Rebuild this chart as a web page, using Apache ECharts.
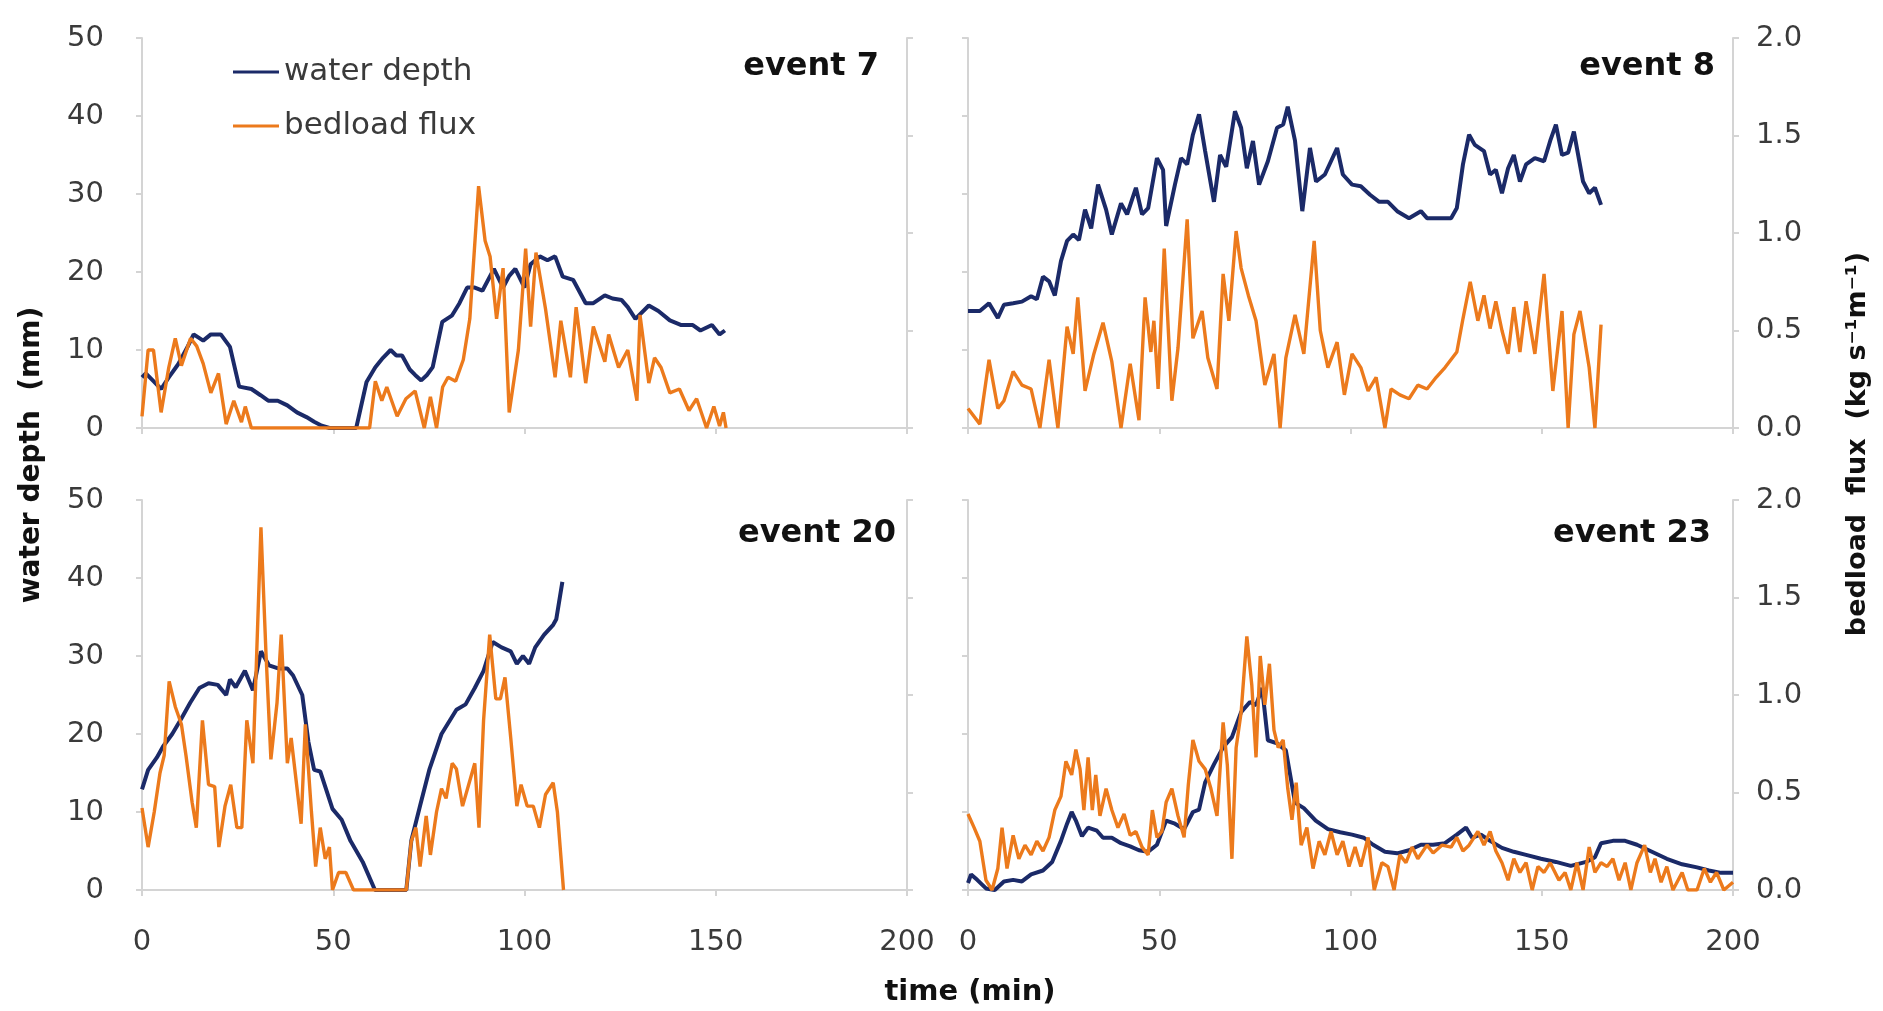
<!DOCTYPE html>
<html><head><meta charset="utf-8">
<script src="https://cdn.jsdelivr.net/npm/echarts@6/dist/echarts.min.js"></script>
<style>html,body{margin:0;padding:0;background:#fff}#c{width:1883px;height:1011px}</style>
</head><body><div id="c"></div>
<script>
// ---------------- data ----------------
const eventNames = ['event 7', 'event 8', 'event 20', 'event 23'];
const seriesNames = ['water depth', 'bedload flux'];

// time (min), water depth (mm)
const e7Depth = [[0,6.5],[1,7],[3,6],[5,5],[7,6.5],[9.5,8.2],[12,10.5],[13.5,12],[16,11.2],[18,12],[20.6,12],[23,10.4],[25.4,5.3],[28.6,5],[31,4.2],[33,3.5],[35.5,3.5],[38,2.9],[40.5,2],[43,1.4],[45,0.8],[47,0.3],[49,0],[56,0],[58.7,5.9],[61,7.8],[63,9],[65,10],[66.5,9.3],[68,9.3],[70,7.5],[71.4,6.8],[73,6.1],[74.5,6.8],[76,7.8],[78.5,13.6],[81,14.4],[83,16],[85,18],[87,18],[89,17.6],[92,20.4],[94.4,18],[96,19.5],[97.6,20.4],[100,18],[101.6,21],[104,22],[106,21.5],[108,22],[110,19.4],[112.7,19],[116,16],[118,16],[121,17],[123,16.6],[125.4,16.4],[127,15.5],[129,14],[132.5,15.7],[135,15],[138,13.8],[141,13.2],[144,13.2],[146,12.5],[149,13.2],[151,12],[152.4,12.5]];
// time (min), bedload flux (kg s-1 m-1)
const e7Flux = [[0,0.06],[1.6,0.40],[3,0.40],[5,0.08],[7,0.31],[8.7,0.46],[10.3,0.32],[12.7,0.46],[14.3,0.42],[16,0.33],[18,0.18],[20,0.28],[22,0.02],[24,0.14],[26,0.03],[27,0.11],[28.6,0],[59.5,0],[61,0.24],[62.7,0.14],[64,0.21],[66.7,0.06],[69,0.15],[71.4,0.19],[73.8,0],[75.4,0.16],[77,0],[78.6,0.21],[80,0.26],[82,0.24],[84,0.35],[85.7,0.56],[88,1.24],[89.7,0.96],[91,0.88],[92.7,0.56],[94.4,0.82],[96,0.08],[98.4,0.40],[100.3,0.92],[101.6,0.52],[103,0.90],[105.5,0.61],[108,0.26],[109.5,0.55],[112,0.26],[113.5,0.62],[116,0.23],[118,0.52],[121,0.34],[122,0.48],[124.6,0.31],[127,0.40],[129.4,0.14],[130.2,0.58],[132.5,0.23],[134,0.36],[135.7,0.31],[138,0.18],[140.5,0.20],[143,0.09],[145,0.15],[147.6,0],[149.5,0.11],[151,0.01],[152,0.08],[152.7,0]];

const e8Depth = [[0,15],[3.1,15],[5.5,16],[7.8,14.1],[9.4,15.8],[11.8,16],[14.1,16.2],[16.5,16.9],[18,16.5],[19.6,19.4],[21.2,18.8],[22.7,17],[24.3,21.4],[25.9,24],[27.5,24.8],[29,24.1],[30.6,28],[32.2,25.6],[34,31.2],[36.1,28],[37.6,24.8],[40,28.8],[41.6,27.4],[43.9,30.8],[45.5,27.4],[47.1,28.2],[49.4,34.6],[51,33.1],[51.8,25.9],[54.1,31.2],[55.7,34.6],[57.3,33.8],[58.8,37.6],[60.4,40.2],[62,35.5],[64.3,29],[65.9,35],[67.5,33.5],[69.8,40.6],[71.4,38.5],[72.9,33.3],[74.5,36.8],[76.1,31.2],[78.4,34.2],[80.8,38.5],[82.4,38.9],[83.6,41.2],[85.5,36.8],[87.4,27.8],[89.4,35.9],[91,31.6],[93.3,32.5],[96.5,35.9],[98,32.5],[100.4,31.2],[102.7,31],[105.1,29.9],[107.5,29],[109.8,29],[112.2,27.8],[115.3,26.9],[118.4,27.8],[120,26.9],[123.1,26.9],[126.3,26.9],[127.8,28.2],[129.4,33.8],[131,37.6],[132.5,36.3],[134.9,35.5],[136.5,32.5],[138,33.1],[139.6,30.1],[141.2,33.3],[142.7,35],[144.3,31.6],[145.9,33.8],[148.2,34.6],[150.6,34.2],[152.2,36.8],[153.7,38.9],[155.3,35],[156.9,35.3],[158.4,38],[160.8,31.6],[162.4,30.1],[163.9,30.8],[165.5,28.6]];
const e8Flux = [[0,0.10],[3.1,0.02],[5.5,0.35],[7.8,0.10],[9.4,0.14],[11.8,0.29],[14.1,0.22],[16.5,0.20],[18.8,0],[21.2,0.35],[23.5,0],[25.9,0.52],[27.5,0.38],[28.7,0.67],[30.6,0.19],[32.9,0.38],[35.3,0.54],[37.6,0.34],[40,0],[42.4,0.33],[44.7,0.04],[46.3,0.67],[47.8,0.39],[48.6,0.55],[49.7,0.20],[51.3,0.92],[53.3,0.14],[54.9,0.41],[57.3,1.07],[58.8,0.46],[61.2,0.60],[62.7,0.36],[65.1,0.20],[66.7,0.79],[68.2,0.55],[70.1,1.01],[71.4,0.82],[73.3,0.68],[75.3,0.55],[77.6,0.22],[80,0.38],[81.6,0],[83.1,0.36],[85.5,0.58],[87.8,0.38],[90.5,0.96],[92.1,0.50],[94.1,0.31],[96.5,0.44],[98.4,0.17],[100.4,0.38],[102.7,0.31],[104.6,0.19],[106.7,0.26],[109,0],[110.6,0.20],[112.9,0.17],[115.3,0.15],[117.6,0.22],[120,0.20],[122.4,0.26],[124.7,0.31],[127.8,0.39],[129.4,0.56],[131.3,0.75],[133.3,0.55],[134.9,0.68],[136.5,0.51],[138,0.65],[139.6,0.50],[141.2,0.38],[142.7,0.62],[144.3,0.39],[145.9,0.65],[148.2,0.38],[150.6,0.79],[152.9,0.19],[155.3,0.60],[156.9,0],[158.4,0.48],[160,0.60],[162.4,0.31],[163.9,0],[165.5,0.53]];

const e20Depth = [[0,12.9],[1.6,15.4],[3.9,17],[5.5,18.4],[7.9,20],[10.3,22],[12.6,24],[15,25.9],[17.4,26.5],[19.8,26.3],[22,25],[23,27],[24.5,26],[26.9,28.1],[29,25.6],[31.1,30.6],[33.2,28.8],[35.6,28.4],[38,28.4],[39.5,27.5],[41.9,25],[43.5,19],[45,15.4],[46.6,15.2],[49.8,10.4],[52.2,9],[54.5,6.3],[57.7,3.6],[60.9,0],[69.1,0],[70.4,6.3],[72.7,10.8],[75.1,15.4],[78.3,20],[82.2,23.1],[84.6,23.8],[87,25.9],[89.3,28.1],[91.7,31.8],[94,31.1],[96.4,30.6],[98,29],[99.6,30],[101.2,29],[102.8,31.1],[105.1,32.7],[107.5,34],[108.3,34.7],[109.9,39.5]];
const e20Flux = [[0,0.42],[1.6,0.22],[3.2,0.40],[4.7,0.60],[5.8,0.69],[7.1,1.07],[8.7,0.94],[10.3,0.85],[11.5,0.69],[13.1,0.45],[14.2,0.32],[15.8,0.87],[17.4,0.54],[19,0.53],[20.1,0.22],[21.7,0.43],[23.2,0.54],[24.8,0.32],[26.1,0.32],[27.4,0.87],[29,0.65],[30,1.22],[31.1,1.86],[32.4,1.22],[33.7,0.67],[35.3,0.96],[36.4,1.31],[38,0.65],[39,0.78],[40.3,0.56],[41.6,0.34],[42.7,0.85],[44.3,0.40],[45.4,0.12],[46.6,0.32],[47.9,0.16],[49,0.22],[49.8,0],[51.4,0.09],[53.3,0.09],[55.3,0],[69.1,0],[70.4,0.25],[71.6,0.32],[72.7,0.12],[74.3,0.38],[75.4,0.18],[77,0.40],[78.3,0.52],[79.5,0.47],[81.1,0.65],[82.2,0.62],[83.8,0.43],[85.4,0.54],[87,0.65],[88.1,0.32],[89.3,0.87],[90.9,1.31],[92.5,0.98],[93.7,0.98],[94.9,1.09],[96.4,0.78],[98,0.43],[99.1,0.54],[100.7,0.43],[102.3,0.43],[103.9,0.32],[105.5,0.49],[107.5,0.55],[108.6,0.40],[110.2,0]];

const e23Depth = [[0,0.9],[0.8,2],[2.4,1.3],[4.7,0.2],[7,0],[9.4,1.1],[11.8,1.3],[14.1,1.1],[16.5,2],[19.6,2.5],[22,3.6],[24.3,6.3],[25.9,8.5],[27.1,10],[28.2,8.9],[29.8,6.9],[31.4,8],[33.7,7.6],[35.3,6.7],[37.6,6.7],[40,6],[42.4,5.6],[44.7,5.1],[47.1,4.9],[49.4,5.8],[51.8,8.9],[54.1,8.5],[56.5,7.8],[58.8,10],[60.4,10.3],[62,13.8],[64.3,16.1],[66.7,18.3],[69,19.6],[71.4,22.8],[73.7,24.1],[75.3,23.7],[76.9,25.9],[78.4,19.2],[80.8,18.8],[83.1,17.9],[85.5,11.2],[87.8,10.5],[90.9,8.9],[94.1,7.8],[97.3,7.4],[100.4,7.1],[103.5,6.7],[105.9,5.8],[109,4.9],[112.2,4.7],[115.3,5.1],[118.4,5.8],[121.6,5.8],[124.7,6],[127.8,7.1],[130.2,8],[131.8,6.7],[134.1,7.1],[136.5,6.3],[139.6,5.4],[142.7,4.9],[145.9,4.5],[149.8,4],[153.7,3.6],[157.6,3.1],[161.6,3.6],[163.9,4.2],[165.5,6],[168.6,6.3],[171.8,6.3],[174.9,5.8],[178.8,4.9],[182.7,4],[186.7,3.3],[190.6,2.9],[193.7,2.5],[196.9,2.2],[200,2.2]];
const e23Flux = [[0,0.39],[1.6,0.32],[3.1,0.25],[4.7,0.05],[6.3,0],[7.8,0.11],[8.9,0.32],[10.2,0.11],[11.8,0.28],[13.3,0.16],[14.9,0.23],[16.5,0.18],[18,0.25],[19.6,0.20],[21.2,0.27],[22.7,0.41],[24.3,0.48],[25.6,0.66],[27.1,0.59],[28.2,0.72],[29.3,0.62],[30.3,0.41],[31.4,0.68],[32.5,0.41],[33.4,0.59],[34.5,0.38],[36.1,0.52],[37.6,0.41],[39.2,0.32],[40.8,0.39],[42.4,0.28],[43.9,0.30],[45.5,0.22],[47.1,0.18],[48.2,0.41],[49.4,0.27],[50.7,0.30],[51.8,0.45],[53.3,0.52],[54.9,0.38],[56.5,0.27],[57.6,0.54],[58.8,0.77],[60.4,0.66],[62,0.62],[63.5,0.52],[65.1,0.38],[66.7,0.86],[67.8,0.64],[69,0.16],[70.1,0.73],[71.4,0.91],[72.9,1.30],[74.2,1.05],[75.3,0.68],[76.4,1.20],[77.6,0.95],[78.8,1.16],[80,0.82],[81.1,0.73],[82.4,0.77],[83.6,0.52],[84.7,0.36],[85.8,0.55],[87.1,0.23],[88.6,0.32],[90.2,0.11],[91.8,0.25],[93.3,0.18],[94.9,0.30],[96.5,0.18],[98,0.25],[99.6,0.12],[101.2,0.22],[102.7,0.12],[104.6,0.27],[106.2,0],[108.2,0.14],[109.8,0.12],[111.4,0],[112.9,0.18],[114.5,0.14],[116.1,0.22],[117.6,0.16],[120,0.23],[121.6,0.19],[123.9,0.23],[126.3,0.22],[127.8,0.27],[129.4,0.20],[131,0.23],[133.3,0.30],[134.9,0.23],[136.5,0.30],[138,0.20],[139.6,0.14],[141.2,0.05],[142.7,0.16],[144.3,0.09],[145.9,0.14],[147.5,0],[149,0.12],[150.6,0.09],[152.2,0.14],[154.5,0.05],[156.1,0.09],[157.6,0],[159.2,0.14],[160.8,0],[162.4,0.22],[163.9,0.09],[165.5,0.14],[167.1,0.12],[168.6,0.16],[170.2,0.05],[171.8,0.14],[173.3,0],[174.9,0.14],[176.9,0.23],[178.4,0.09],[179.6,0.16],[181.2,0.04],[182.7,0.12],[184.3,0],[186.7,0.09],[188.2,0],[190.6,0],[192.5,0.11],[194.1,0.04],[195.7,0.09],[197.6,0],[200,0.04]];

const depthSets = [e7Depth, e8Depth, e20Depth, e23Depth];
const fluxSets = [e7Flux, e8Flux, e20Flux, e23Flux];

// ---------------- styling / layout ----------------
const FONT = 'DejaVu Sans';
const AXC = '#d4d4d4';
const LBL = '#3a3a3a';
const BLUE = '#1b2a68';
const ORANGE = '#ec7a1c';

const grids = [
  {left:142, top:38, width:765, height:390},
  {left:968, top:38, width:765, height:390},
  {left:142, top:500, width:765, height:390},
  {left:968, top:500, width:765, height:390}
];
const eventPos = [[879,67],[1715,67],[896,534],[1711,534]];

const xAxes = [], yAxes = [], series = [];
grids.forEach((g, i) => {
  const bottomRow = i >= 2, leftCol = (i % 2 === 0);
  xAxes.push({
    type:'value', gridIndex:i, min:0, max:200, interval:50,
    axisLine:{show:true, onZero:false, lineStyle:{color:AXC, width:2}},
    axisTick:{show:true, length:6, lineStyle:{color:AXC, width:2}},
    axisLabel:{show:bottomRow, margin:38, fontSize:29, color:LBL, fontFamily:FONT},
    splitLine:{show:false}
  });
  yAxes.push({
    type:'value', gridIndex:i, position:'left', min:0, max:50, interval:10,
    axisLine:{show:true, lineStyle:{color:AXC, width:2}},
    axisTick:{show:true, length:6, lineStyle:{color:AXC, width:2}},
    axisLabel:{show:leftCol, margin:38, fontSize:29, color:LBL, fontFamily:FONT},
    splitLine:{show:false}
  });
  yAxes.push({
    type:'value', gridIndex:i, position:'right', min:0, max:2, interval:0.5,
    axisLine:{show:true, lineStyle:{color:AXC, width:2}},
    axisTick:{show:true, length:6, lineStyle:{color:AXC, width:2}},
    axisLabel:{show:!leftCol, margin:23, fontSize:29, color:LBL, fontFamily:FONT,
      formatter: v => v.toFixed(1)},
    splitLine:{show:false}
  });
  series.push({
    name:seriesNames[0], type:'line', xAxisIndex:i, yAxisIndex:2*i,
    data:depthSets[i], symbol:'none', showSymbol:false,
    lineStyle:{color:BLUE, width:4}, itemStyle:{color:BLUE}, z:2
  });
  series.push({
    name:seriesNames[1], type:'line', xAxisIndex:i, yAxisIndex:2*i+1,
    data:fluxSets[i], symbol:'none', showSymbol:false,
    lineStyle:{color:ORANGE, width:3.4}, itemStyle:{color:ORANGE}, z:3
  });
});

const graphic = eventNames.map((t, i) => ({
  type:'text', x:eventPos[i][0], y:eventPos[i][1],
  style:{text:t, align:'right', verticalAlign:'middle', fontFamily:FONT, fontWeight:'bold', fontSize:32, fill:'#111'}
}));
graphic.push({
  type:'text', x:32, y:455, rotation:Math.PI/2,
  style:{text:'water depth  (mm)', align:'center', verticalAlign:'middle', fontFamily:FONT, fontWeight:'bold', fontSize:28, fill:'#111'}
});
graphic.push({
  type:'text', x:1858, y:444, rotation:Math.PI/2,
  style:{text:'bedload  flux  (kg s\u207B\u00B9m\u207B\u00B9)', align:'center', verticalAlign:'middle', fontFamily:FONT, fontWeight:'bold', fontSize:27, fill:'#111'}
});
graphic.push({
  type:'text', x:970, y:992,
  style:{text:'time (min)', align:'center', verticalAlign:'middle', fontFamily:FONT, fontWeight:'bold', fontSize:29, fill:'#111'}
});

const chart = echarts.init(document.getElementById('c'), null, {renderer:'canvas'});
chart.setOption({
  animation:false,
  backgroundColor:'#fff',
  grid:grids,
  xAxis:xAxes,
  yAxis:yAxes,
  legend:{
    data:seriesNames, orient:'vertical', left:228, top:50,
    icon:'rect', itemWidth:46, itemHeight:3, itemGap:20,
    textStyle:{fontSize:31, fontFamily:FONT, color:LBL, lineHeight:34}
  },
  graphic:graphic,
  series:series
});
</script></body></html>
